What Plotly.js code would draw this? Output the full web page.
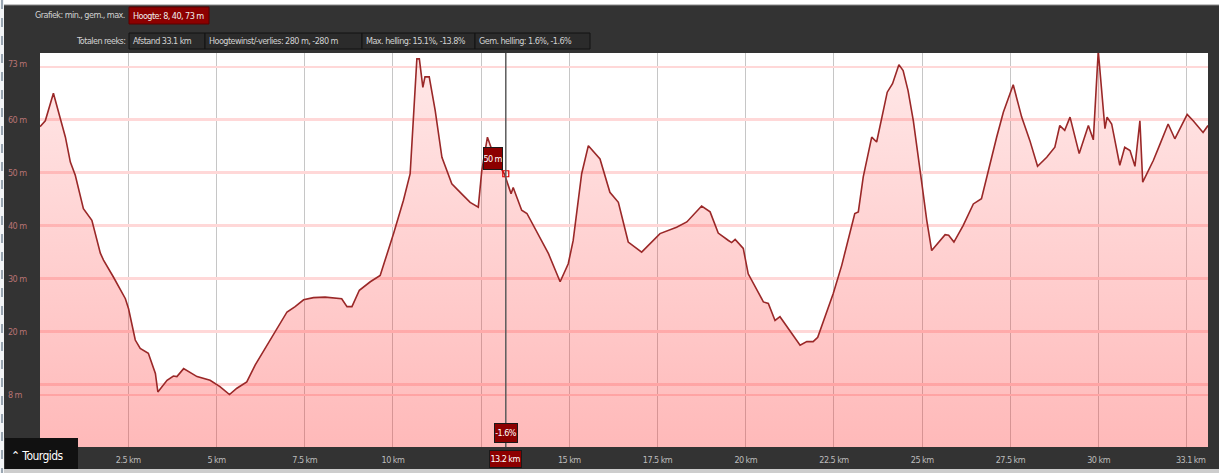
<!DOCTYPE html>
<html><head><meta charset="utf-8">
<script src="https://cdn.plot.ly/plotly-3.0.1.min.js"></script>
<style>html,body{margin:0;padding:0;background:#333;overflow:hidden}#chart{width:1219px;height:473px}
svg text{letter-spacing:-0.55px}</style>
</head><body><div id="chart"></div>
<script>
// ---- data ----
const distanceKm = [0.00,0.15,0.38,0.53,0.72,0.86,1.00,1.23,1.47,1.71,1.80,2.08,2.42,2.51,2.70,2.84,3.07,3.27,3.34,3.60,3.78,3.88,4.07,4.45,4.82,5.10,5.37,5.58,5.86,6.10,6.52,7.00,7.23,7.47,7.75,8.08,8.55,8.70,8.84,9.05,9.36,9.64,9.78,10.02,10.30,10.49,10.68,10.75,10.85,10.91,11.03,11.20,11.39,11.67,11.95,12.19,12.42,12.52,12.68,12.85,13.00,13.16,13.35,13.41,13.51,13.65,13.80,14.17,14.41,14.74,14.97,15.11,15.35,15.54,15.87,16.15,16.39,16.67,17.05,17.57,18.04,18.33,18.75,18.99,19.22,19.51,19.60,19.70,19.93,20.07,20.31,20.50,20.64,20.83,20.97,21.20,21.54,21.73,21.91,22.04,22.24,22.48,22.72,22.90,23.09,23.19,23.33,23.57,23.71,24.01,24.16,24.34,24.46,24.60,24.75,24.98,25.13,25.27,25.46,25.65,25.75,25.90,26.16,26.45,26.68,26.87,27.11,27.30,27.58,27.82,28.05,28.27,28.53,28.76,28.90,29.04,29.19,29.45,29.71,29.85,29.89,29.99,30.18,30.24,30.37,30.60,30.74,30.89,31.03,31.17,31.25,31.55,31.74,31.97,32.16,32.51,32.68,32.96,33.10];
const elevationM = [58.7,59.8,65.0,61.4,56.7,52.0,49.5,43.2,41.0,34.8,33.5,30.3,26.2,24.3,18.4,16.8,15.9,12.1,8.6,10.8,11.6,11.5,13.0,11.5,10.8,9.6,8.1,9.3,10.5,13.7,18.4,23.7,24.7,26.0,26.4,26.5,26.2,24.7,24.7,27.8,29.4,30.6,33.5,38.5,44.8,49.8,71.5,71.5,66.1,68.1,68.1,61.7,52.9,47.9,46.0,44.4,43.5,50.4,56.7,53.5,51.5,49.8,46.0,47.2,45.4,42.9,42.3,37.8,34.7,29.4,32.8,37.2,49.8,55.1,52.6,46.3,44.4,36.9,35.0,38.5,39.7,40.7,43.7,42.6,38.6,37.2,36.8,37.4,35.7,30.9,27.8,25.6,25.3,22.1,22.8,20.6,17.4,18.1,18.1,18.9,22.5,27.2,32.5,37.2,42.3,42.6,49.2,56.7,55.8,65.2,66.8,70.4,69.3,65.5,59.8,48.5,41.0,35.3,36.9,38.3,38.2,36.9,40.0,44.1,45.1,50.4,56.7,61.4,66.6,60.5,56.1,51.2,52.9,54.8,58.9,58.0,60.5,53.6,58.9,56.2,60.5,73.0,58.3,60.5,59.2,51.4,54.8,54.2,51.2,59.8,48.2,52.3,55.4,59.2,56.4,61.0,59.8,57.6,58.9];
const xGridKm = [2.5,5,7.5,10,12.5,15,17.5,20,22.5,25,27.5,30,32.5];
const xTickLabels = ['2.5 km','5 km','7.5 km','10 km','','15 km','17.5 km','20 km','22.5 km','25 km','27.5 km','30 km',''];
const totalLabel = '33.1 km';
const totalKm = 33.1;
const yGridM = [8,10,20,30,40,50,60,70];
const yLabelVals = [8,20,30,40,50,60];
const yLabelText = ['8 m','20 m','30 m','40 m','50 m','60 m'];
const maxLabel = '73 m';
const yRange = [-1.8, 72.6];
const cursorKm = 13.2, cursorM = 49.8;
const cursorElevLabel = '50 m', cursorSlopeLabel = '-1.6%', cursorDistLabel = '13.2 km';
const headerRow1Label = 'Grafiek: min., gem., max.';
const headerRow1Box = 'Hoogte: 8, 40, 73 m';
const headerRow2Label = 'Totalen reeks:';
const headerRow2Boxes = ['Afstand 33.1 km','Hoogtewinst/-verlies: 280 m, -280 m','Max. helling: 15.1%, -13.8%','Gem. helling: 1.6%, -1.6%'];

// ---- layout geometry ----
const W=1219,H=473,L=40,R=11,T=53,B=26;
const pw=W-L-R, ph=H-T-B;
const fx = x => (x-L)/pw;
const fy = y => (H-B-y)/ph;
const FONT = '"Liberation Sans Narrow","DejaVu Sans Condensed","Liberation Sans",Arial,sans-serif';

const shapes = [];
const annotations = [];
function prect(x0,y0,x1,y1,fill,line,lw,layer){
  shapes.push({type:'rect',xref:'paper',yref:'paper',x0:fx(x0),x1:fx(x1),y0:fy(y1),y1:fy(y0),
    fillcolor:fill,line:{color:line||fill,width:lw||0},layer:layer||'above'});
}
function ptext(text,x,y,anchor,opts){
  opts=opts||{};
  annotations.push(Object.assign({xref:'paper',yref:'paper',x:fx(x),y:fy(y),text:text,showarrow:false,
    xanchor:anchor,yanchor:'middle',font:{family:FONT,size:9,color:'#d2d2d2'}},opts));
}
// frame edges
prect(0,0,W,5,'#ffffff');
shapes.push({type:'line',xref:'paper',yref:'paper',x0:fx(0),x1:fx(W),y0:fy(5),y1:fy(5),line:{color:'#888',width:1},layer:'above'});
prect(0,0,4,H,'#f2f4f6');
shapes.push({type:'line',xref:'paper',yref:'paper',x0:fx(2),x1:fx(2),y0:fy(0),y1:fy(H),line:{color:'#9aa6b2',width:2,dash:'dash'},layer:'above'});
prect(4,469,W,H,'#cdcdcd');
// header
ptext(headerRow1Label,127,15,'right');
prect(129,7,209,24,'#8c0000','#5a0000',1);
ptext(headerRow1Box,131,15.5,'left',{font:{family:FONT,size:9,color:'#eeeeee'}});
ptext(headerRow2Label,127,41,'right');
const boxX=[129,205,362,475,590];
headerRow2Boxes.forEach((t,i)=>{
  prect(boxX[i],33,boxX[i+1],49,'#2b2b2b','#121212',1);
  ptext(t,boxX[i]+2,41,'left');
});
// y labels
yLabelVals.forEach((v,i)=>{
  annotations.push({xref:'paper',yref:'y',x:fx(6),y:v,text:yLabelText[i],showarrow:false,xanchor:'left',yanchor:'middle',
    font:{family:FONT,size:9,color:'#b87474'}});
});
annotations.push({xref:'paper',yref:'paper',x:fx(6),y:1,yshift:-4,text:maxLabel,showarrow:false,xanchor:'left',yanchor:'top',
  font:{family:FONT,size:9,color:'#b87474'}});
// total distance label at end of axis
annotations.push({xref:'x',yref:'paper',x:totalKm,y:fy(460),text:totalLabel,showarrow:false,xanchor:'right',yanchor:'middle',
  font:{family:FONT,size:9,color:'#bcbcbc'}});
// cursor
shapes.push({type:'line',xref:'x',yref:'paper',x0:cursorKm,x1:cursorKm,y0:0,y1:1,line:{color:'#5c5c5c',width:1.5},layer:'above'});
annotations.push({xref:'x',yref:'y',x:cursorKm,y:cursorM,text:cursorElevLabel,showarrow:false,xanchor:'right',yanchor:'bottom',
  xshift:-3,yshift:4,width:18,height:21,bgcolor:'#8c0000',bordercolor:'#1a1a1a',borderwidth:1,borderpad:0,
  font:{family:FONT,size:9,color:'#ffffff'}});
annotations.push({xref:'x',yref:'paper',x:cursorKm,y:fy(433),text:cursorSlopeLabel,showarrow:false,xanchor:'center',yanchor:'middle',
  width:22,height:18,bgcolor:'#8c0000',bordercolor:'#1a1a1a',borderwidth:1,borderpad:0,
  font:{family:FONT,size:9,color:'#ffffff'}});
annotations.push({xref:'x',yref:'paper',x:cursorKm,y:fy(459),text:cursorDistLabel,showarrow:false,xanchor:'center',yanchor:'middle',
  width:31,height:16,bgcolor:'#8c0000',bordercolor:'#1a1a1a',borderwidth:1,borderpad:0,
  font:{family:FONT,size:9,color:'#ffffff'}});
// Tourgids
prect(5,438,78,469,'#111111');
ptext('⌃ Tourgids',9,456,'left',{font:{family:FONT,size:12,color:'#ffffff'}});

const traces = [
  {x:distanceKm,y:distanceKm.map(()=>yRange[0]),mode:'lines',line:{width:0,color:'rgba(0,0,0,0)'},hoverinfo:'skip',showlegend:false},
  {x:distanceKm,y:elevationM,mode:'lines',fill:'tonexty',
    fillgradient:{type:'vertical',start:yRange[0],stop:yRange[1],
      colorscale:[[0,'rgba(255,30,30,0.31)'],[1,'rgba(255,30,30,0.10)']]},
    line:{color:'#9a2828',width:1.6},hoverinfo:'skip',showlegend:false},
  {x:[cursorKm],y:[cursorM],mode:'markers',marker:{symbol:'square-open',size:6,color:'#e00000',line:{width:1.2}},hoverinfo:'skip',showlegend:false}
];

const layout = {
  width:W,height:H,margin:{l:L,r:R,t:T,b:B,pad:0},
  paper_bgcolor:'#333333',plot_bgcolor:'#ffffff',showlegend:false,
  xaxis:{range:[0,totalKm],tickvals:xGridKm,ticktext:xTickLabels,showgrid:true,gridcolor:'#c6c6c6',gridwidth:1,
    zeroline:false,showline:false,ticks:'',ticklabelstandoff:6,tickfont:{family:FONT,size:9,color:'#bcbcbc'},fixedrange:true},
  yaxis:{range:yRange,tickvals:yGridM,showticklabels:false,showgrid:true,gridcolor:'#ffd8d8',gridwidth:2.5,
    zeroline:false,showline:false,ticks:'',fixedrange:true},
  shapes:shapes,annotations:annotations
};
Plotly.newPlot('chart',traces,layout,{staticPlot:true,displayModeBar:false});
</script></body></html>
